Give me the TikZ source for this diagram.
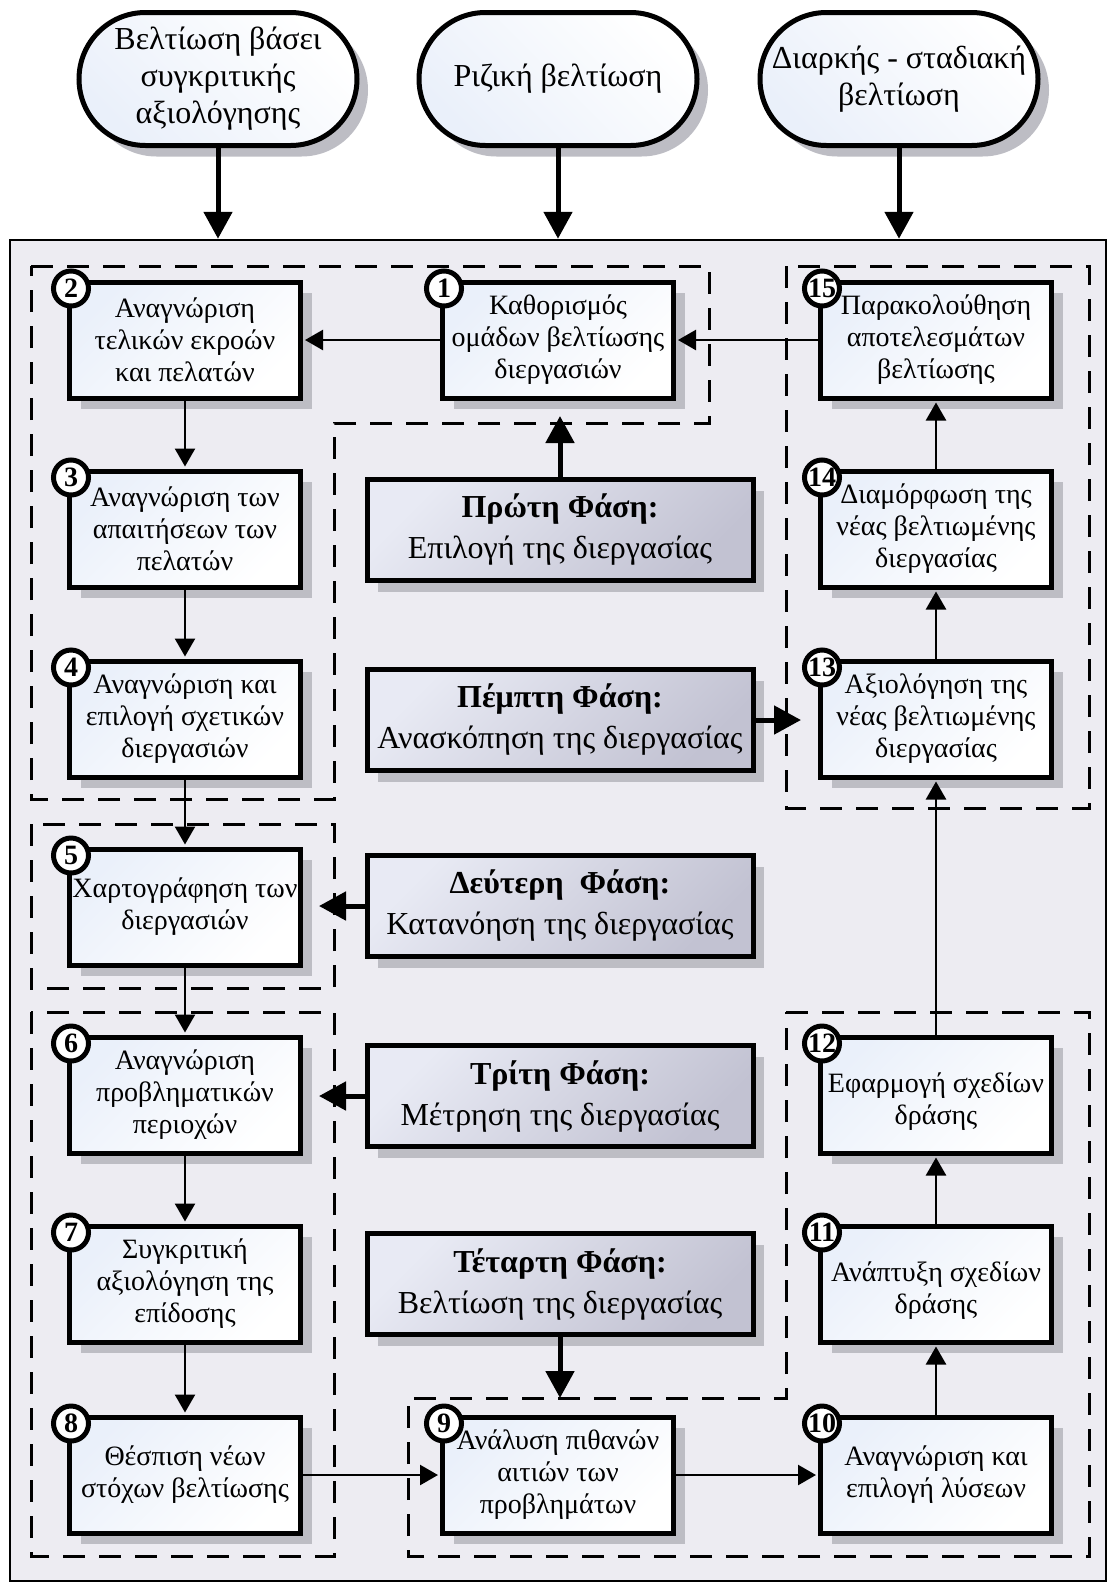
\documentclass[tikz,border=0pt]{standalone}
\usepackage{fontspec}
\setmainfont{Liberation Serif}[Script=Greek]
\usetikzlibrary{arrows.meta,shadows,shapes.misc}

\definecolor{panelfill}{RGB}{237,236,242}
\definecolor{shadowgrey}{RGB}{189,189,196}
\definecolor{stepfade}{RGB}{234,240,250}
\definecolor{phaselight}{RGB}{232,234,244}
\definecolor{phasedark}{RGB}{194,194,210}

\begin{document}
\begin{tikzpicture}[x=1pt,y=-1pt,
  boxshadow/.style={drop shadow={shadow xshift=11pt,shadow yshift=-11pt,fill=shadowgrey,opacity=1}},
  panelbox/.style={draw,line width=2.5pt,fill=panelfill,minimum width=1096pt,minimum height=1341pt,inner sep=0pt},
  stadium/.style={draw,line width=5pt,rounded rectangle,rounded rectangle arc length=180,
    minimum width=278pt,minimum height=133pt,inner sep=0pt,align=center,
    font=\fontsize{32}{37}\selectfont,top color=stepfade,bottom color=white,shading angle=135,boxshadow},
  stepbox/.style={draw,line width=5pt,minimum width=231pt,minimum height=116pt,inner sep=0pt,align=center,
    font=\fontsize{28}{32}\selectfont,top color=stepfade,bottom color=white,shading angle=45,boxshadow},
  phasebox/.style={draw,line width=5pt,minimum width=386pt,minimum height=101pt,inner sep=0pt,align=center,
    font=\fontsize{32}{41}\selectfont,top color=phaselight,bottom color=phasedark,shading angle=45,boxshadow},
  badge/.style={circle,draw,line width=5pt,fill=white,minimum size=35pt,inner sep=0pt,
    font=\fontsize{28}{28}\selectfont\bfseries,xshift=4pt,yshift=-9pt},
  flow/.style={-{Triangle[length=18pt,width=20pt]},line width=2.5pt,shorten >=2pt},
  bigflow/.style={-{Triangle[length=27pt,width=28pt]},line width=5pt},
  group/.style={line width=3pt,dash pattern=on 22pt off 14pt}
]
\useasboundingbox (0,0) rectangle (1108,1591);
\fill[white] (0,0) rectangle (1108,1591);

% outer panel
\node[panelbox] (panel) at (558,910.5) {};

% dashed groupings of the steps
\draw[group] (31,266) -- (709,266) -- (709,423) -- (334,423) -- (334,799) -- (31,799) -- cycle;
\draw[group] (31,824) rectangle (334,988);
\draw[group] (31,1012) rectangle (334,1556);
\draw[group] (786,266) rectangle (1089,808);
\draw[group] (786,1012) -- (1089,1012) -- (1089,1556) -- (408,1556) -- (408,1398) -- (786,1398) -- cycle;

% improvement approaches
\node[stadium] (s1) at (218,79) {Βελτίωση βάσει\\συγκριτικής\\αξιολόγησης};
\node[stadium] (s2) at (558,79) {Ριζική βελτίωση};
\node[stadium] (s3) at (899,79) {Διαρκής - σταδιακή\\βελτίωση};

\draw[bigflow] (s1.south) -- (s1.south |- panel.north);
\draw[bigflow] (s2.south) -- (s2.south |- panel.north);
\draw[bigflow] (s3.south) -- (s3.south |- panel.north);

% steps
\node[stepbox] (b1) at (558,340) {Καθορισμός\\ομάδων βελτίωσης\\διεργασιών};
\node[stepbox] (b2) at (185,340) {Αναγνώριση\\τελικών εκροών\\και πελατών};
\node[stepbox] (b15) at (936,340) {Παρακολούθηση\\αποτελεσμάτων\\βελτίωσης};
\node[stepbox] (b3) at (185,529) {Αναγνώριση των\\απαιτήσεων των\\πελατών};
\node[stepbox] (b14) at (936,529) {Διαμόρφωση της\\νέας βελτιωμένης\\διεργασίας};
\node[stepbox] (b4) at (185,719) {Αναγνώριση και\\επιλογή σχετικών\\διεργασιών};
\node[stepbox] (b13) at (936,719) {Αξιολόγηση της\\νέας βελτιωμένης\\διεργασίας};
\node[stepbox] (b5) at (185,907) {Χαρτογράφηση των\\διεργασιών};
\node[stepbox] (b6) at (185,1095) {Αναγνώριση\\προβληματικών\\περιοχών};
\node[stepbox] (b12) at (936,1095) {\mbox{}\\Εφαρμογή σχεδίων\\δράσης};
\node[stepbox] (b7) at (185,1284) {Συγκριτική\\αξιολόγηση της\\επίδοσης};
\node[stepbox] (b11) at (936,1284) {\mbox{}\\Ανάπτυξη σχεδίων\\δράσης};
\node[stepbox] (b8) at (185,1475) {Θέσπιση νέων\\στόχων βελτίωσης};
\node[stepbox] (b9) at (558,1475) {Ανάλυση πιθανών\\αιτιών των\\προβλημάτων};
\node[stepbox] (b10) at (936,1475) {Αναγνώριση και\\επιλογή λύσεων};

% step numbers
\foreach \n in {1,...,15} {
  \node[badge] (c\n) at (b\n.north west) {\n};
}

% phases
\node[phasebox] (p1) at (560,530) {\textbf{Πρώτη Φάση:}\\Επιλογή της διεργασίας};
\node[phasebox] (p5) at (560,720) {\textbf{Πέμπτη Φάση:}\\Ανασκόπηση της διεργασίας};
\node[phasebox] (p2) at (560,906) {\textbf{Δεύτερη\ \ Φάση:}\\Κατανόηση της διεργασίας};
\node[phasebox] (p3) at (560,1096) {\textbf{Τρίτη Φάση:}\\Μέτρηση της διεργασίας};
\node[phasebox] (p4) at (560,1284) {\textbf{Τέταρτη Φάση:}\\Βελτίωση της διεργασίας};

% free ends of the phase arrows
\coordinate (tip1) at (559,416);
\coordinate (tip5) at (801,720);
\coordinate (tip2) at (319,906);
\coordinate (tip4) at (560,1398);

\draw[bigflow] (p1.north) -- (p1.north |- tip1);
\draw[bigflow] (p5.east) -- (p5.east -| tip5);
\draw[bigflow] (p2.west) -- (p2.west -| tip2);
\draw[bigflow] (p3.west) -- (p3.west -| tip2);
\draw[bigflow] (p4.south) -- (p4.south |- tip4);

% step sequence
\draw[flow] (b1.west) -- (b2.east);
\draw[flow] (b15.west) -- (b1.east);
\draw[flow] (b2.south) -- (b3.north);
\draw[flow] (b3.south) -- (b4.north);
\draw[flow] (b4.south) -- (b5.north);
\draw[flow] (b5.south) -- (b6.north);
\draw[flow] (b6.south) -- (b7.north);
\draw[flow] (b7.south) -- (b8.north);
\draw[flow] (b8.east) -- (b9.west);
\draw[flow] (b9.east) -- (b10.west);
\draw[flow] (b10.north) -- (b11.south);
\draw[flow] (b11.north) -- (b12.south);
\draw[flow] (b12.north) -- (b13.south);
\draw[flow] (b13.north) -- (b14.south);
\draw[flow] (b14.north) -- (b15.south);
\end{tikzpicture}
\end{document}
